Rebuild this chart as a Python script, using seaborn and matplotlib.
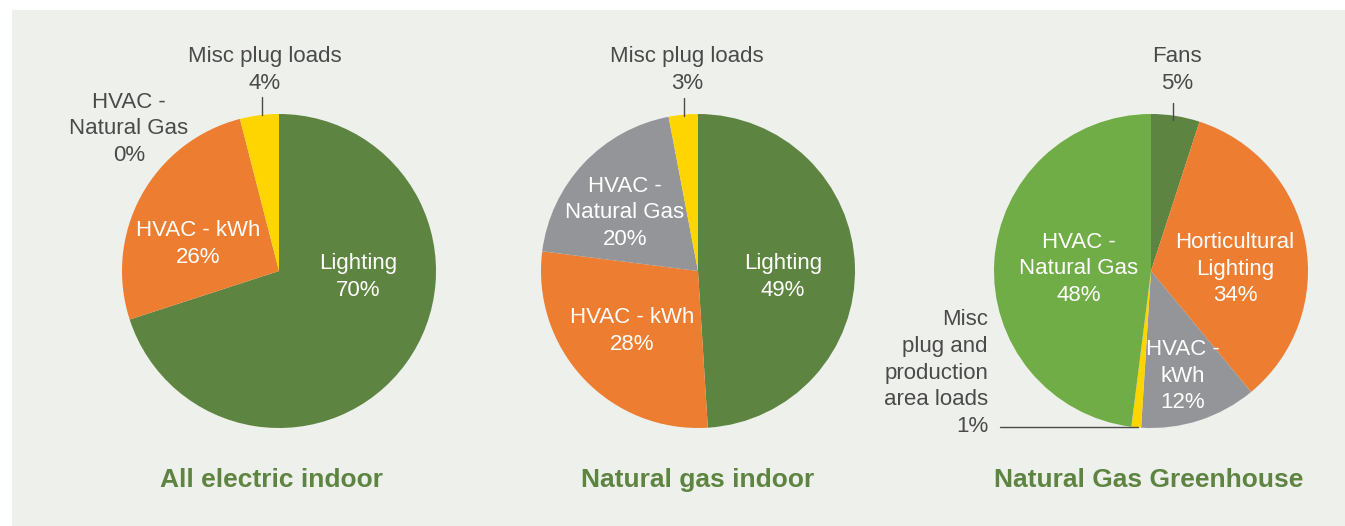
import matplotlib
matplotlib.use("Agg")
import matplotlib.pyplot as plt
from matplotlib.patches import Rectangle
import seaborn as sns

# energy share by end use (%)
electric_labels = ["Lighting", "HVAC - kWh", "HVAC -\nNatural Gas", "Misc plug loads"]
electric_values = [70, 26, 0, 4]

gas_labels = ["Lighting", "HVAC - kWh", "HVAC -\nNatural Gas", "Misc plug loads"]
gas_values = [49, 28, 20, 3]

greenhouse_labels = ["Fans", "Horticultural\nLighting", "HVAC -\nkWh",
                     "Misc\nplug and\nproduction\narea loads", "HVAC -\nNatural Gas"]
greenhouse_values = [5, 34, 12, 1, 48]

titles = ["All electric indoor", "Natural gas indoor", "Natural Gas Greenhouse"]

DKGREEN = "#5e8441"
ORANGE = "#ed7d31"
GREY = "#939598"
YELLOW = "#ffd500"
LTGREEN = "#70ad47"
TXT = "#4a4a4a"
BG = "#eef0ec"

W, H = 1345, 526
R = 157

sns.set_theme(style="white")
plt.rcParams["font.family"] = ["Liberation Sans", "DejaVu Sans"]

fig = plt.figure(figsize=(W / 100, H / 100), dpi=100, facecolor="white")
ax = fig.add_axes([0, 0, 1, 1])
ax.add_patch(Rectangle((12, 0), W - 12, H - 10, color=BG, zorder=0, lw=0))

# (labels, values, colors, center px, title x, label layout: (dx, dy, color, ha))
pies = [
    (electric_labels, electric_values, [DKGREEN, ORANGE, GREY, YELLOW], (279, 271), 272,
     [(79, -6, "white", "center"), (-81, 27, "white", "center"),
      (-150, 142, TXT, "center"), (-14, 201, TXT, "center")]),
    (gas_labels, gas_values, [DKGREEN, ORANGE, GREY, YELLOW], (698, 271), 698,
     [(85, -6, "white", "center"), (-66, -60, "white", "center"),
      (-73, 58, "white", "center"), (-11, 201, TXT, "center")]),
    (greenhouse_labels, greenhouse_values, [DKGREEN, ORANGE, GREY, YELLOW, LTGREEN], (1151, 271), 1149,
     [(26, 201, TXT, "center"), (84, 2, "white", "center"),
      (32, -105, "white", "center"), (-163, -102, TXT, "right"),
      (-72, 2, "white", "center")]),
]

for (labels, values, colors, (cx, cy), tx, layout), title in zip(pies, titles):
    ccx, ccy = cx, H - cy
    ax.pie(values, colors=colors, startangle=90, counterclock=False,
           center=(ccx, ccy), radius=R, frame=True,
           wedgeprops=dict(linewidth=0), normalize=True)
    for lab, val, (dx, dy, col, ha) in zip(labels, values, layout):
        ax.text(ccx + dx, ccy + dy, f"{lab}\n{val}%", color=col, ha=ha, va="center",
                multialignment=ha, fontsize=16, linespacing=1.35, zorder=5)
    ax.text(tx, H - 480, title, color=DKGREEN, fontsize=19, fontweight="bold",
            ha="center", va="center")

# leader lines for the small slices
ax.plot([262, 262], [H - 97, H - 115], color=TXT, lw=1)
ax.plot([684, 684], [H - 98, H - 116], color=TXT, lw=1)
ax.plot([1173, 1173], [H - 103, H - 120], color=TXT, lw=1)
ax.plot([1000, 1138], [H - 427, H - 427], color=TXT, lw=1)

ax.set_xlim(0, W)
ax.set_ylim(0, H)
ax.axis("off")

fig.savefig("out.png", dpi=100, facecolor="white")
